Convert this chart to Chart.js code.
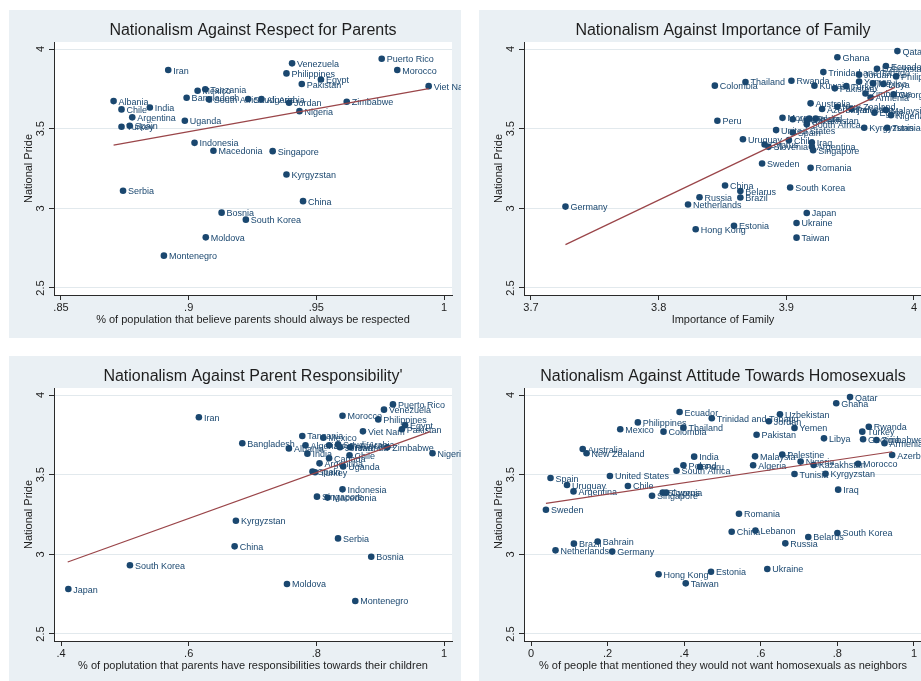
<!DOCTYPE html>
<html>
<head>
<meta charset="utf-8">
<script src="https://cdn.jsdelivr.net/npm/chart.js@4.4.1/dist/chart.umd.min.js"></script>
<style>
  html, body { margin: 0; padding: 0; background: #fff; width: 921px; height: 681px; overflow: hidden; }
  canvas { position: absolute; }
</style>
</head>
<body>
<canvas id="respect" width="452" height="328" style="left:9px;top:10px"></canvas>
<canvas id="family" width="449" height="328" style="left:479px;top:10px"></canvas>
<canvas id="responsibility" width="452" height="328" style="left:9px;top:356px"></canvas>
<canvas id="homosexual" width="449" height="328" style="left:479px;top:356px"></canvas>
<script>
// y 轴（四个图相同）
const yTicks = [2.5, 3, 3.5, 4];

// 图1：尊重父母
const respTicks = [0.85, 0.9, 0.95, 1];
const respNames = ['Puerto Rico', 'Morocco', 'Viet Nam', 'Venezuela', 'Philippines', 'Egypt', 'Pakistan', 'Iran', 'Mexico', 'Tanzania',
    'Bangladesh', 'South Africa', 'Saudi Arabia', 'Algeria', 'Jordan', 'Zimbabwe', 'Nigeria', 'Albania', 'Chile', 'India',
    'Argentina', 'Turkey', 'Spain', 'Uganda', 'Indonesia', 'Macedonia', 'Singapore', 'Kyrgyzstan', 'Serbia', 'China',
    'Bosnia', 'South Korea', 'Moldova', 'Montenegro'];
const respX = [0.9756, 0.9817, 0.994, 0.9405, 0.9383, 0.9518, 0.9443, 0.892, 0.9035, 0.9065,
    0.8992, 0.9079, 0.9233, 0.9285, 0.9393, 0.9619, 0.9434, 0.8706, 0.8737, 0.8848,
    0.8779, 0.8737, 0.8769, 0.8985, 0.9023, 0.9097, 0.9329, 0.9383, 0.8743, 0.9448,
    0.9129, 0.9224, 0.9067, 0.8903];
const respY = [3.939, 3.868, 3.767, 3.910, 3.847, 3.809, 3.780, 3.868, 3.738, 3.747,
    3.694, 3.684, 3.686, 3.686, 3.663, 3.669, 3.610, 3.673, 3.621, 3.633,
    3.571, 3.512, 3.518, 3.550, 3.411, 3.361, 3.359, 3.212, 3.110, 3.045,
    2.973, 2.929, 2.818, 2.703];
const respFitX = [0.8706, 0.994];
const respFitY = [3.397, 3.751];

// 图2：家庭重要性
const famTicks = [3.7, 3.8, 3.9, 4];
const famNames = ['Qatar', 'Ghana', 'Ecuador', 'Uzbekistan', 'Trinidad and Tobago', 'Jordan', 'Philippines', 'Thailand', 'Rwanda', 'Colombia',
    'Kuwait', 'Pakistan', 'Turkey', 'Yemen', 'Mexico', 'Libya', 'Zimbabwe', 'Armenia', 'Georgia', 'Australia',
    'Azerbaijan', 'New Zealand', 'Palestine', 'Malaysia', 'Egypt', 'Nigeria', 'Peru', 'Morocco', 'Algeria', 'Kazakhstan',
    'Poland', 'India', 'South Africa', 'Kyrgyzstan', 'Tunisia', 'United States', 'Spain', 'Uruguay', 'Chile', 'Cyprus',
    'Slovenia', 'Iraq', 'Argentina', 'Singapore', 'Sweden', 'Romania', 'China', 'Belarus', 'Brazil', 'Russia',
    'Netherlands', 'South Korea', 'Germany', 'Japan', 'Ukraine', 'Hong Kong', 'Estonia', 'Taiwan'];
const famX = [3.987, 3.940, 3.978, 3.971, 3.929, 3.957, 3.986, 3.868, 3.904, 3.844,
    3.922, 3.938, 3.947, 3.957, 3.968, 3.976, 3.962, 3.966, 3.984, 3.919,
    3.928, 3.940, 3.951, 3.978, 3.969, 3.982, 3.846, 3.897, 3.905, 3.916,
    3.918, 3.923, 3.916, 3.961, 3.979, 3.892, 3.905, 3.866, 3.902, 3.883,
    3.886, 3.920, 3.920, 3.921, 3.881, 3.919, 3.852, 3.864, 3.864, 3.832,
    3.823, 3.903, 3.727, 3.916, 3.908, 3.829, 3.859, 3.908];
const famY = [3.987, 3.948, 3.893, 3.876, 3.855, 3.839, 3.828, 3.793, 3.801, 3.770,
    3.770, 3.753, 3.767, 3.795, 3.784, 3.780, 3.721, 3.696, 3.715, 3.659,
    3.623, 3.638, 3.623, 3.617, 3.600, 3.585, 3.550, 3.568, 3.559, 3.553,
    3.563, 3.563, 3.527, 3.506, 3.506, 3.491, 3.476, 3.434, 3.428, 3.401,
    3.386, 3.413, 3.386, 3.365, 3.281, 3.254, 3.143, 3.108, 3.068, 3.070,
    3.024, 3.131, 3.011, 2.971, 2.908, 2.869, 2.890, 2.816];
const famFitX = [3.727, 3.985];
const famFitY = [2.772, 3.759];

// 图3：父母责任
const rspTicks = [0.4, 0.6, 0.8, 1];
const rspNames = ['Puerto Rico', 'Venezuela', 'Morocco', 'Philippines', 'Egypt', 'Pakistan', 'Viet Nam', 'Iran', 'Tanzania', 'Mexico',
    'Bangladesh', 'Albania', 'Algeria', 'India', 'South Africa', 'Saudi Arabia', 'Jordan', 'Rwanda', 'Canada', 'Chile',
    'Argentina', 'Uganda', 'Spain', 'Turkey', 'Zimbabwe', 'Nigeria', 'Indonesia', 'Singapore', 'Macedonia', 'Kyrgyzstan',
    'China', 'Serbia', 'Bosnia', 'South Korea', 'Moldova', 'Montenegro', 'Japan'];
const rspX = [0.920, 0.906, 0.841, 0.897, 0.939, 0.934, 0.873, 0.616, 0.778, 0.811,
    0.684, 0.757, 0.783, 0.786, 0.820, 0.834, 0.837, 0.853, 0.820, 0.852,
    0.805, 0.842, 0.794, 0.798, 0.911, 0.982, 0.841, 0.801, 0.8176, 0.674,
    0.672, 0.834, 0.886, 0.508, 0.754, 0.861, 0.4115];
const rspY = [3.941, 3.908, 3.870, 3.847, 3.810, 3.785, 3.772, 3.860, 3.743, 3.732,
    3.697, 3.665, 3.684, 3.632, 3.684, 3.690, 3.672, 3.672, 3.603, 3.622,
    3.571, 3.552, 3.520, 3.515, 3.672, 3.634, 3.408, 3.362, 3.356, 3.211,
    3.050, 3.100, 2.985, 2.931, 2.814, 2.707, 2.782];
const rspFitX = [0.4105, 0.9785];
const rspFitY = [2.952, 3.770];

// 图4：对同性恋的态度
const homTicks = [0, 0.2, 0.4, 0.6, 0.8, 1];
const homNames = ['Qatar', 'Ghana', 'Ecuador', 'Uzbekistan', 'Trinidad and Tobago', 'Jordan', 'Philippines', 'Mexico', 'Thailand', 'Colombia',
    'Yemen', 'Pakistan', 'Libya', 'Turkey', 'Rwanda', 'Georgia', 'Zimbabwe', 'Armenia', 'Azerbaijan', 'Australia',
    'New Zealand', 'India', 'Malaysia', 'Palestine', 'Nigeria', 'Kazakhstan', 'Morocco', 'Algeria', 'Poland', 'Peru',
    'South Africa', 'Spain', 'United States', 'Tunisia', 'Kyrgyzstan', 'Uruguay', 'Argentina', 'Chile', 'Iraq', 'Singapore',
    'Slovenia', 'Cyprus', 'Sweden', 'Romania', 'China', 'Lebanon', 'Belarus', 'South Korea', 'Russia', 'Brazil',
    'Bahrain', 'Netherlands', 'Germany', 'Hong Kong', 'Estonia', 'Taiwan', 'Ukraine'];
const homX = [0.833, 0.797, 0.388, 0.650, 0.472, 0.621, 0.279, 0.233, 0.398, 0.346,
    0.688, 0.589, 0.765, 0.865, 0.882, 0.867, 0.902, 0.923, 0.943, 0.135,
    0.145, 0.426, 0.585, 0.656, 0.704, 0.738, 0.854, 0.580, 0.398, 0.441,
    0.380, 0.051, 0.206, 0.688, 0.769, 0.094, 0.111, 0.253, 0.802, 0.316,
    0.344, 0.353, 0.039, 0.543, 0.524, 0.586, 0.724, 0.800, 0.664, 0.112,
    0.174, 0.064, 0.212, 0.333, 0.470, 0.404, 0.617];
const homY = [3.987, 3.948, 3.893, 3.879, 3.854, 3.835, 3.828, 3.785, 3.795, 3.770,
    3.793, 3.751, 3.728, 3.770, 3.801, 3.722, 3.718, 3.697, 3.623, 3.661,
    3.634, 3.613, 3.615, 3.626, 3.582, 3.561, 3.569, 3.559, 3.559, 3.550,
    3.525, 3.479, 3.492, 3.504, 3.506, 3.435, 3.395, 3.429, 3.406, 3.368,
    3.387, 3.387, 3.280, 3.255, 3.142, 3.149, 3.109, 3.134, 3.069, 3.067,
    3.080, 3.025, 3.017, 2.875, 2.891, 2.818, 2.908];
const homFitX = [0.039, 0.943];
const homFitY = [3.320, 3.644];

const FONT = '"Liberation Sans", Arial, Helvetica, sans-serif';
const NAVY = '#1a476f';
const PANEL_BG = '#eaf0f4';
const AXIS = '#2a2a2a';

// 去掉前导零，跟 Stata 一样显示 .85 / .2
function fmt(v) {
    return String(v).replace(/^0\./, '.');
}

// 背景、标题、数据标签
const stataPlugin = {
    id: 'stata',
    beforeDraw(chart) {
        const { ctx, chartArea: a } = chart;
        ctx.save();
        ctx.fillStyle = PANEL_BG;
        ctx.fillRect(0, 0, chart.width, chart.height);
        ctx.fillStyle = '#fff';
        ctx.fillRect(a.left, a.top, a.right - a.left, a.bottom - a.top);
        ctx.restore();
    },
    afterDatasetDraw(chart, args, opts) {
        if (args.index !== 1) return;
        const ctx = chart.ctx;
        ctx.save();
        ctx.font = '9px ' + FONT;
        ctx.fillStyle = NAVY;
        ctx.textAlign = 'left';
        ctx.textBaseline = 'middle';
        args.meta.data.forEach((pt, i) => {
            ctx.fillText(opts.names[i], pt.x + 5, pt.y + 1);
        });
        ctx.restore();
    },
    afterDraw(chart, args, opts) {
        const { ctx, chartArea: a } = chart;
        const cx = (a.left + a.right) / 2;
        ctx.save();
        ctx.fillStyle = '#1e1e1e';
        ctx.textAlign = 'center';
        ctx.textBaseline = 'middle';
        ctx.font = '16px ' + FONT;
        ctx.fillText(opts.title, cx, 21);
        ctx.font = '11px ' + FONT;
        ctx.fillText(opts.xTitle, cx, a.bottom + 25);
        // y 轴刻度标签（竖排）
        const ys = chart.scales.y;
        yTicks.forEach(v => {
            ctx.save();
            ctx.translate(32, ys.getPixelForValue(v));
            ctx.rotate(-Math.PI / 2);
            ctx.fillText(fmt(v), 0, 0);
            ctx.restore();
        });
        ctx.save();
        ctx.translate(20, (a.top + a.bottom) / 2);
        ctx.rotate(-Math.PI / 2);
        ctx.fillText('National Pride', 0, 0);
        ctx.restore();
        ctx.restore();
    }
};

function makePanel(id, title, xTitle, names, xs, ys, fitX, fitY, xTicks, xMin, xMax) {
    const canvas = document.getElementById(id);
    return new Chart(canvas.getContext('2d'), {
        type: 'scatter',
        data: {
            datasets: [
                {
                    label: 'fit',
                    data: fitX.map((x, i) => ({ x: x, y: fitY[i] })),
                    showLine: true,
                    borderColor: '#9a4549',
                    borderWidth: 1.2,
                    pointRadius: 0,
                    order: 0
                },
                {
                    label: 'countries',
                    data: xs.map((x, i) => ({ x: x, y: ys[i] })),
                    backgroundColor: NAVY,
                    borderWidth: 0,
                    pointRadius: 3.3,
                    order: 1
                }
            ]
        },
        options: {
            responsive: false,
            animation: false,
            devicePixelRatio: 1,
            layout: { padding: { top: 32, left: 0, right: canvas.width - 443, bottom: 0 } },
            plugins: {
                legend: { display: false },
                tooltip: { enabled: false },
                stata: { title: title, xTitle: xTitle, names: names }
            },
            scales: {
                x: {
                    type: 'linear',
                    min: xMin,
                    max: xMax,
                    afterBuildTicks: s => { s.ticks = xTicks.map(v => ({ value: v })); },
                    afterFit: s => { s.height = 43; },
                    grid: { drawOnChartArea: false, drawTicks: true, tickLength: 5, tickColor: AXIS },
                    border: { display: true, color: AXIS, width: 1 },
                    ticks: {
                        autoSkip: false, maxRotation: 0, padding: 1, color: '#1e1e1e',
                        font: { family: FONT, size: 11 },
                        callback: v => fmt(v)
                    }
                },
                y: {
                    type: 'linear',
                    min: 2.456,
                    max: 4.044,
                    afterBuildTicks: s => { s.ticks = yTicks.map(v => ({ value: v })); },
                    afterFit: s => { s.width = 45; },
                    grid: { color: '#e2e9ed', lineWidth: 1, drawTicks: true, tickLength: 5, tickColor: AXIS },
                    border: { display: true, color: AXIS, width: 1 },
                    ticks: { display: false }
                }
            }
        },
        plugins: [stataPlugin]
    });
}

makePanel('respect', 'Nationalism Against Respect for Parents',
    '% of population that believe parents should always be respected',
    respNames, respX, respY, respFitX, respFitY, respTicks, 0.84726, 1.00313);
makePanel('family', 'Nationalism Against Importance of Family', 'Importance of Family',
    famNames, famX, famY, famFitX, famFitY, famTicks, 3.69452, 4.00627);
makePanel('responsibility', "Nationalism Against Parent Responsibility'",
    '% of poplutation that parents have responsibilities towards their children',
    rspNames, rspX, rspY, rspFitX, rspFitY, rspTicks, 0.38903, 1.01253);
makePanel('homosexual', 'Nationalism Against Attitude Towards Homosexuals',
    '% of people that mentioned they would not want homosexuals as neighbors',
    homNames, homX, homY, homFitX, homFitY, homTicks, -0.01828, 1.02089);
</script>
</body>
</html>
